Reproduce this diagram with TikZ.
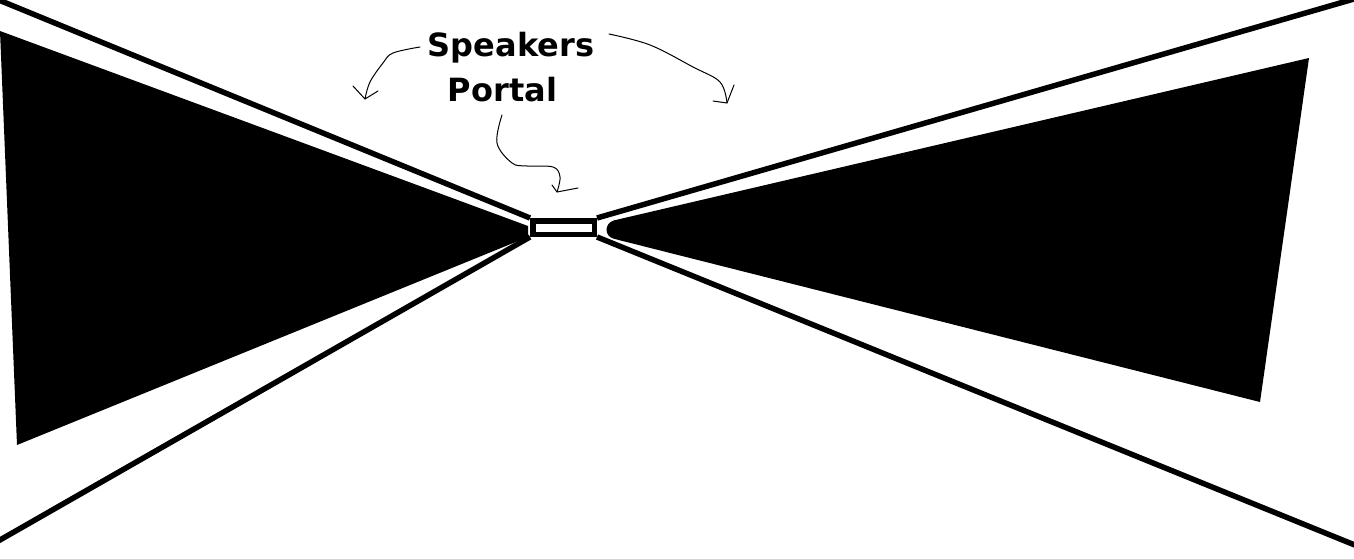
\documentclass[tikz,border=0pt]{standalone}
\usepackage{fontspec}
\newfontfamily\labelfont{DejaVu Sans}
\begin{document}
\begin{tikzpicture}[x=1pt,y=-1pt,
  wall/.style={line width=5.5pt},
  blackpanel/.style={fill=black,draw=none},
  hand/.style={line width=1pt,line join=round,line cap=round},
  lbl/.style={font=\labelfont\bfseries\fontsize{32}{36}\selectfont,anchor=base,inner sep=0pt}]
\useasboundingbox (0,0) rectangle (1354,559);
\clip (0,0) rectangle (1354,559);
% panels
\fill[blackpanel] (0,31) -- (528,226) -- (528,237) -- (17,445) -- cycle;
\fill[blackpanel] (1309,58) -- (1260,402) -- (614,238.8) .. controls (604,236.3) and (604,223.2) .. (614,220.4) -- cycle;
% portal
\node[draw,line width=5.5pt,minimum width=61.5pt,minimum height=13.5pt,inner sep=0pt,fill=white] (portal) at (563.5,227.5) {};
% corner coordinates
\coordinate (tl) at (-2,-0.3);
\coordinate (bl) at (-2,541.1);
\coordinate (tr) at (1356,-1.6);
\coordinate (br) at (1356,545.5);
\draw[wall] (portal.north west) -- (tl);
\draw[wall] (portal.south west) -- (bl);
\draw[wall] (portal.north east) -- (tr);
\draw[wall] (portal.south east) -- (br);
% labels
\node[lbl] (speakers) at (511,57) {Speakers};
\node[lbl] (portaltxt) at (502.5,102) {Portal};
% hand-drawn arrows
\draw[hand] plot[smooth,tension=0.6] coordinates {(420,47) (393,53) (383,63) (370,82) (365,99)};
\draw[hand] (353,86) -- (365,99) -- (378,91);
\draw[hand] plot[smooth,tension=0.6] coordinates {(609,34) (650,45) (693,67) (720,82) (727,103)};
\draw[hand] (734,85) -- (727,103) -- (713,101);
\draw[hand] plot[smooth,tension=0.6] coordinates {(502,115) (497,143) (512,163) (527,166) (553,167) (560,177) (557,192)};
\draw[hand] (552,185) -- (557,192) -- (578,188);
\end{tikzpicture}
\end{document}
